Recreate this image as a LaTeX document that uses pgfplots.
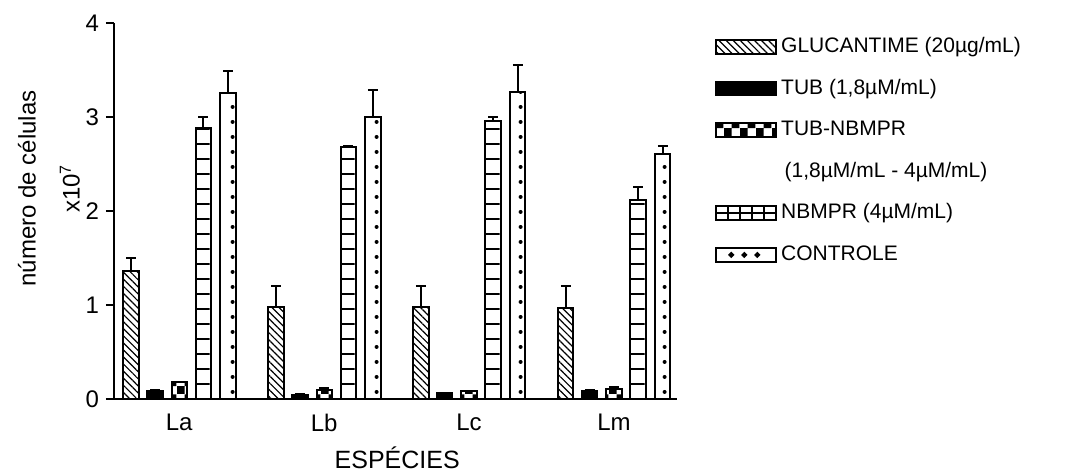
\documentclass[border=0pt]{standalone}
\usepackage{fontspec}
\setmainfont{Liberation Sans}
\usepackage{pgfplots}
\usepackage{pgfplotstable}
\pgfplotsset{compat=1.18}
\usetikzlibrary{patterns.meta}

\pgfdeclarepatternformonly{ctrldots}{\pgfqpoint{0pt}{0pt}}{\pgfqpoint{8.0556pt}{7.5pt}}{\pgfqpoint{8.0556pt}{7.5pt}}{%
  \pgfpathcircle{\pgfqpoint{4pt}{3.75pt}}{1.05pt}\pgfusepath{fill}}
\pgfdeclarepatternformonly{checker}{\pgfqpoint{0pt}{0pt}}{\pgfqpoint{8.0556pt}{8.0556pt}}{\pgfqpoint{8.0556pt}{8.0556pt}}{%
  \pgfpathrectangle{\pgfqpoint{0pt}{0pt}}{\pgfqpoint{4.0278pt}{4.0278pt}}%
  \pgfpathrectangle{\pgfqpoint{4.0278pt}{4.0278pt}}{\pgfqpoint{4.0278pt}{4.0278pt}}\pgfusepath{fill}}
\pgfdeclarepatternformonly{hrungs}{\pgfqpoint{0pt}{-0.6pt}}{\pgfqpoint{8.0556pt}{6.9pt}}{\pgfqpoint{8.0556pt}{7.5pt}}{%
  \pgfsetlinewidth{1pt}\pgfpathmoveto{\pgfqpoint{0pt}{0pt}}\pgfpathlineto{\pgfqpoint{8.0556pt}{0pt}}\pgfusepath{stroke}}

\pgfplotsset{mylegend/.style={legend image code/.code={\draw[##1, line width=0.9pt] (0pt,-3.5pt) rectangle (30pt,3.5pt);}}}

\pgfplotstableread{
x y e
0 1.36 0.14
1 0.98 0.22
2 0.98 0.22
3 0.965 0.235
}\glu
\pgfplotstableread{
x y e
0 0.085 0.015
1 0.04 0.01
2 0.06 0.005
3 0.085 0.015
}\tub
\pgfplotstableread{
x y e
0 0.18 0.005
1 0.10 0.02
2 0.08 0.01
3 0.11 0.02
}\tubn
\pgfplotstableread{
x y e
0 2.88 0.12
1 2.68 0.01
2 2.96 0.04
3 2.12 0.14
}\nbm
\pgfplotstableread{
x y e
0 3.26 0.23
1 3.00 0.29
2 3.27 0.28
3 2.61 0.08
}\ctrl

\begin{document}
\begin{tikzpicture}
\begin{axis}[
  scale only axis, width=281.5pt, height=188pt,
  xmin=-0.45, xmax=3.435, ymin=0, ymax=4,
  axis x line=bottom, axis y line=left,
  axis line style={-, line width=1pt},
  xtick={0,1,2,3}, xticklabels={La,Lb,Lc,Lm},
  x tick style={draw=none},
  ytick={0,1,2,3,4},
  y tick style={line width=1pt, black},
  tick align=outside, major tick length=4pt,
  /pgf/number format/assume math mode=true,
  tick label style={font=\fontsize{12}{14}\selectfont},
  ybar, bar width=0.105,
  xlabel={ESPÉCIES},
  xlabel style={at={(axis description cs:0.503,-0.126)}, anchor=north, font=\fontsize{12.5}{14}\selectfont, inner sep=0pt},
  ylabel={número de células\\x10\textsuperscript{7}},
  ylabel style={at={(axis description cs:-0.1155,0.56)}, anchor=center, align=center, font=\fontsize{12}{22}\selectfont, inner sep=0pt},
  legend style={at={(axis description cs:1.0675,1.0)}, anchor=north west, draw=none, fill=none, inner sep=0pt, yshift=-6pt,
    font=\fontsize{10.5}{12}\selectfont, row sep=9.3pt, column sep=1pt,
    nodes={inner sep=1pt, text height=7.5pt, text depth=2pt}},
  legend cell align=left,
  clip=false,
  error bars/y dir=plus, error bars/y explicit,
  error bars/error mark=|,
  error bars/error bar style={line width=1pt, black},
  error bars/error mark options={mark size=2.5pt, line width=1pt, black},
]
\addplot[draw=black, line width=1pt, bar shift=-0.332, pattern={Lines[angle=-45,distance=2.5pt,line width=0.6pt]}, mylegend]
  table[x=x, y=y, y error=e] {\glu};
\addlegendentry{GLUCANTIME (20µg/mL)}
\addplot[draw=black, fill=black, line width=1pt, bar shift=-0.167, mylegend]
  table[x=x, y=y, y error=e] {\tub};
\addlegendentry{TUB (1,8µM/mL)}
\addplot[draw=black, line width=1pt, bar shift=0, pattern=checker, mylegend]
  table[x=x, y=y, y error=e] {\tubn};
\addlegendentry{TUB-NBMPR}
\addlegendimage{empty legend}
\addlegendentry{\,(1,8µM/mL - 4µM/mL)}
\addplot[draw=black, line width=1pt, bar shift=0.166, pattern=hrungs,
  legend image code/.code={\draw[fill=white, draw=black, line width=0.9pt] (0pt,-3.5pt) rectangle (30pt,3.5pt);
     \draw[line width=0.9pt] (0pt,0pt)--(30pt,0pt)
     (6pt,-3.5pt)--(6pt,3.5pt) (12pt,-3.5pt)--(12pt,3.5pt) (18pt,-3.5pt)--(18pt,3.5pt) (24pt,-3.5pt)--(24pt,3.5pt);}]
  table[x=x, y=y, y error=e] {\nbm};
\addlegendentry{NBMPR (4µM/mL)}
\addplot[draw=black, line width=1pt, bar shift=0.337, pattern=ctrldots,
  legend image code/.code={\draw[fill=white, draw=black, line width=0.9pt] (0pt,-3.5pt) rectangle (30pt,3.5pt);
     \fill[black] (7.5pt,0pt) circle (0.9pt) (14pt,0pt) circle (0.9pt) (20.5pt,0pt) circle (0.9pt);}]
  table[x=x, y=y, y error=e] {\ctrl};
\addlegendentry{CONTROLE}
\end{axis}
\pgfresetboundingbox
\path (-57pt,-37.5pt) rectangle (480.5pt,199.5pt);
\end{tikzpicture}
\end{document}
